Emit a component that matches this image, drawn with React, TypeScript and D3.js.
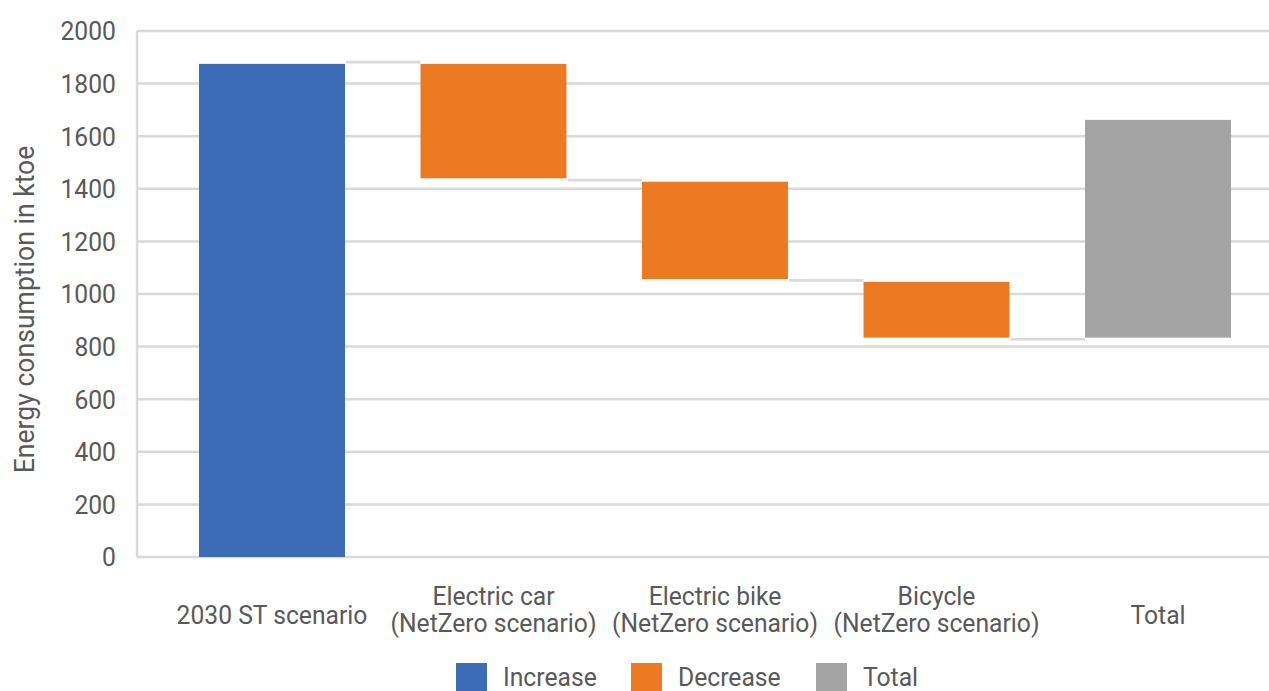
import React from "react";
import * as d3 from "d3";

const categories = [
  ["2030 ST scenario"],
  ["Electric car", "(NetZero scenario)"],
  ["Electric bike", "(NetZero scenario)"],
  ["Bicycle", "(NetZero scenario)"],
  ["Total"],
];
const barStart = [0, 1875, 1427, 1046, 834];
const barEnd = [1875, 1440, 1057, 834, 1662];
const barKind = ["Increase", "Decrease", "Decrease", "Decrease", "Total"];
const connectorLevels = [1882, 1433, 1052, 828];
const yTicks = [0, 200, 400, 600, 800, 1000, 1200, 1400, 1600, 1800, 2000];
const legendItems = ["Increase", "Decrease", "Total"];

const colors: Record<string, string> = {
  Increase: "#3D6BB5",
  Decrease: "#EC7A23",
  Total: "#A3A3A3",
};

const W = 1269;
const H = 691;
const textColor = "#595959";
const gridColor = "#D9D9D9";
const FONT = "Roboto, 'Noto Sans', sans-serif";
const SX = 0.95;

function T({ x, y, anchor = "middle", size = 26, children, rotate = 0 }: any) {
  return (
    <text
      transform={`translate(${x},${y}) rotate(${rotate}) scale(${SX},1)`}
      textAnchor={anchor}
      fontSize={size}
      fontFamily={FONT}
      fill={textColor}
    >
      {children}
    </text>
  );
}

export default function App() {
  const plotLeft = 137;
  const plotRight = 1269;
  const y = d3.scaleLinear().domain([0, 2000]).range([557, 31]);
  const x = d3
    .scaleBand<number>()
    .domain(categories.map((_, i) => i))
    .range([161.25, 1268.75])
    .paddingInner(0.341)
    .paddingOuter(0.1705);
  const bw = x.bandwidth();

  const legendX = [456, 631, 816];

  return (
    <svg
      width={W}
      height={H}
      style={{ position: "absolute", left: 0, top: 0, background: "#fff" }}
    >
      {yTicks.map((t) => (
        <g key={t}>
          <line
            x1={plotLeft}
            x2={plotRight}
            y1={y(t)}
            y2={y(t)}
            stroke={gridColor}
            strokeWidth={2.5}
          />
          <T x={116} y={y(t) + 9.3} anchor="end">
            {t}
          </T>
        </g>
      ))}
      <line
        x1={plotLeft}
        x2={plotLeft}
        y1={y(2000)}
        y2={y(0)}
        stroke={gridColor}
        strokeWidth={2.5}
      />
      {connectorLevels.map((v, i) => (
        <line
          key={"c" + i}
          x1={(x(i) as number) + bw + 1}
          x2={x(i + 1) as number}
          y1={y(v)}
          y2={y(v)}
          stroke={gridColor}
          strokeWidth={2.7}
        />
      ))}
      {categories.map((_, i) => {
        const top = y(Math.max(barStart[i], barEnd[i]));
        const bot = y(Math.min(barStart[i], barEnd[i]));
        return (
          <rect
            key={"b" + i}
            x={x(i) as number}
            y={top}
            width={bw}
            height={bot - top}
            fill={colors[barKind[i]]}
          />
        );
      })}
      {categories.map((lines, i) => {
        const cx = (x(i) as number) + bw / 2;
        if (lines.length === 1) {
          return (
            <T key={"l" + i} x={cx} y={623.5}>
              {lines[0]}
            </T>
          );
        }
        return (
          <g key={"l" + i}>
            <T x={cx} y={604.5}>
              {lines[0]}
            </T>
            <T x={cx} y={631.5}>
              {lines[1]}
            </T>
          </g>
        );
      })}
      <T x={34} y={309.5} rotate={-90} size={28}>
        Energy consumption in ktoe
      </T>
      {legendItems.map((k, i) => (
        <g key={k}>
          <rect x={legendX[i]} y={663} width={31} height={28} fill={colors[k]} />
          <T x={legendX[i] + 47} y={686} anchor="start">
            {k}
          </T>
        </g>
      ))}
    </svg>
  );
}
